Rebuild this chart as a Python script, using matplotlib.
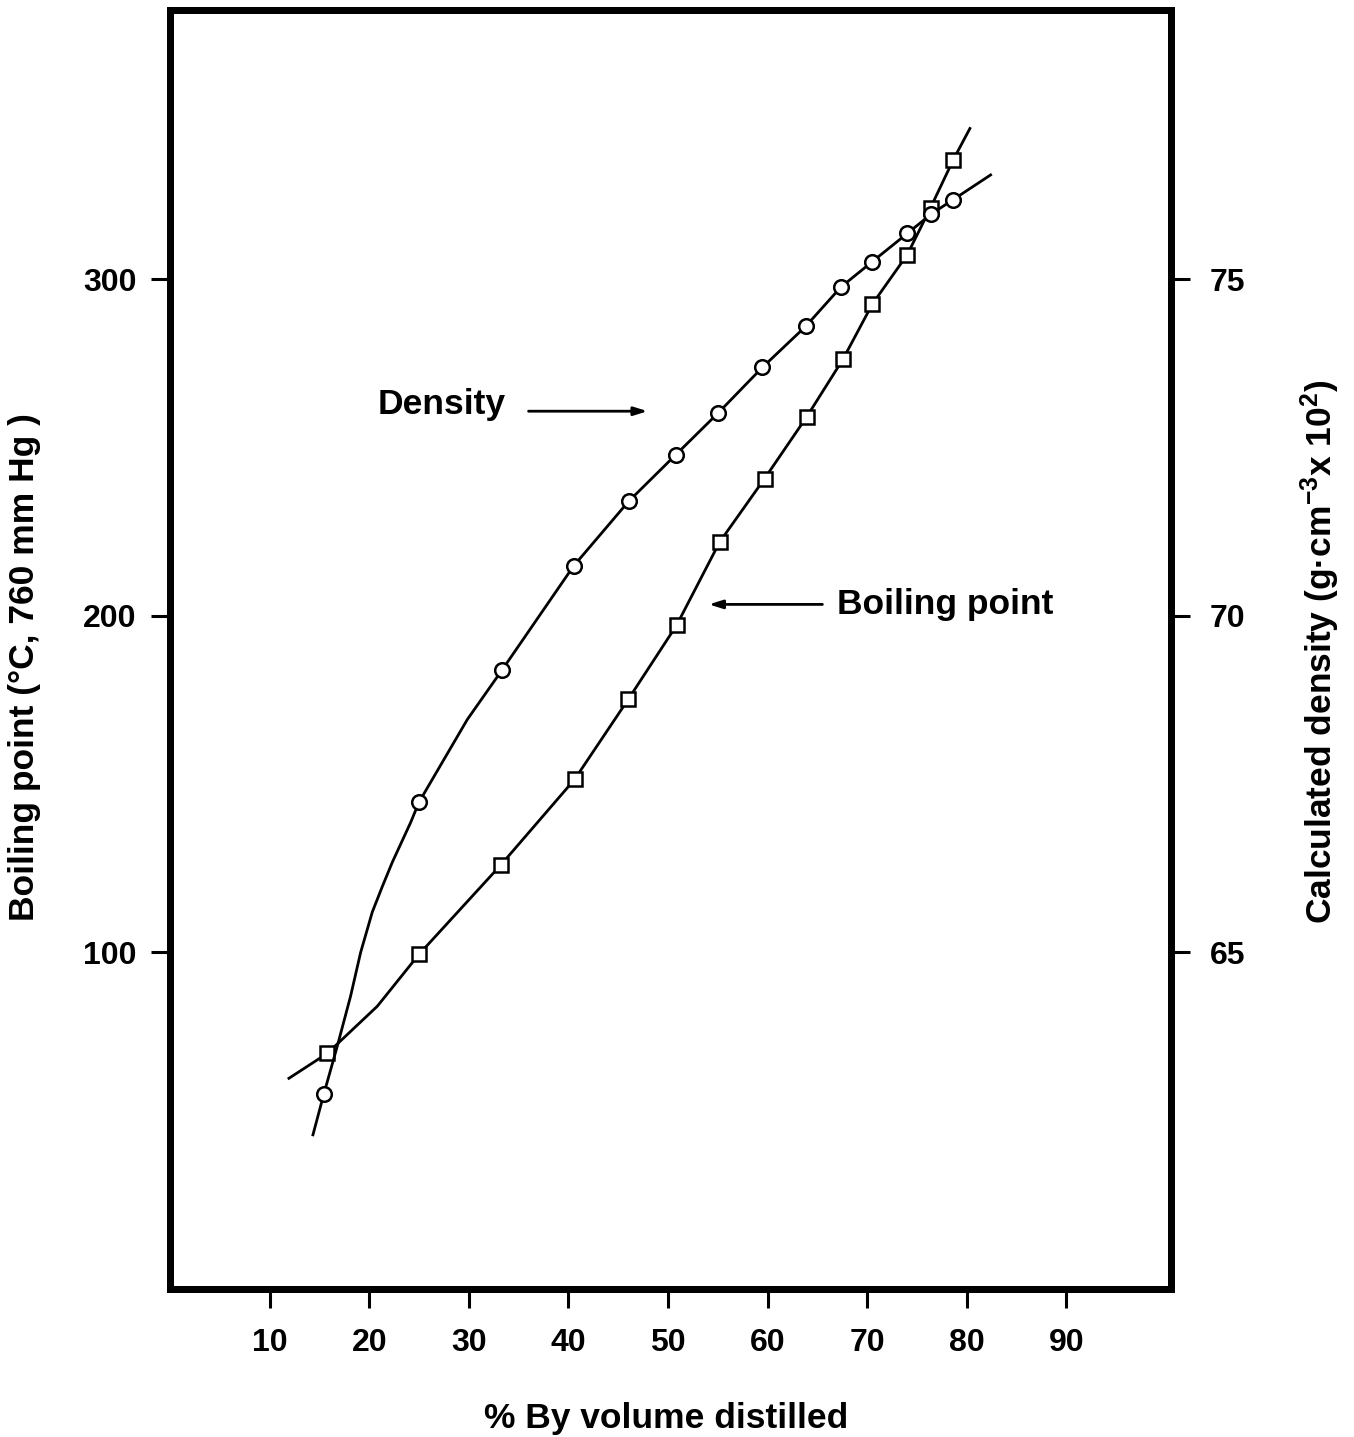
import numpy as np
import matplotlib
matplotlib.use("Agg")
import matplotlib.pyplot as plt

plt.rcParams['font.family'] = ['Liberation Sans', 'DejaVu Sans']
plt.rcParams['font.weight'] = 'bold'
plt.rcParams['mathtext.fontset'] = 'custom'
plt.rcParams['mathtext.rm'] = 'Liberation Sans:bold'
plt.rcParams['mathtext.it'] = 'Liberation Sans:bold'
plt.rcParams['mathtext.bf'] = 'Liberation Sans:bold'
plt.rcParams['mathtext.default'] = 'rm'

# ---- data ----
# Density (circles, right axis, g.cm^-3 x 10^2)
density_x = [15.45, 24.99, 33.36, 40.52, 46.04, 50.76, 55.01, 59.47, 63.82, 67.33, 70.49, 74.02, 76.44, 78.60]
density_y = [62.90, 67.23, 69.20, 70.74, 71.70, 72.39, 73.01, 73.69, 74.30, 74.88, 75.26, 75.68, 75.97, 76.18]
# extra points (ends and bend)
density_trace_x = [14.35, 16.80, 18.13, 19.14, 20.31, 21.32, 22.32, 24.16, 29.85, 82.39]
density_trace_y = [62.29, 63.61, 64.35, 65.00, 65.60, 65.98, 66.34, 66.93, 68.46, 76.55]

# Boiling point (squares, left axis, deg C)
bp_x = [15.79, 24.99, 33.19, 40.62, 46.01, 50.86, 55.18, 59.70, 63.92, 67.56, 70.51, 74.02, 76.37, 78.64]
bp_y = [70.0, 99.4, 125.9, 151.4, 175.2, 197.2, 221.9, 240.8, 259.1, 276.2, 292.6, 307.3, 321.3, 335.5]
bp_trace_x = [11.94, 20.81, 80.31]
bp_trace_y = [62.6, 84.0, 344.8]

x_ticks = [10, 20, 30, 40, 50, 60, 70, 80, 90]
left_ticks = [100, 200, 300]
right_ticks = [65, 70, 75]

def curve(mx, my, tx, ty):
    x = np.concatenate([mx, tx])
    y = np.concatenate([my, ty])
    o = np.argsort(x)
    return x[o], y[o]

fig = plt.figure(figsize=(13.54, 14.37), dpi=100)
ax = fig.add_axes([170/1354, 1 - 1289/1437, (1171-170)/1354, (1289-10)/1437])
ax2 = ax.twinx()

ax.set_xlim(0, 100.5)
ax.set_ylim(0, 380)
ax2.set_ylim(60, 79.0)

lw = 2.0
cx, cy = curve(bp_x, bp_y, bp_trace_x, bp_trace_y)
ax.plot(cx, cy, color='black', lw=lw, zorder=2)
ax.plot(bp_x, bp_y, linestyle='none', marker='s', ms=10, mfc='white', mec='black', mew=1.8, zorder=3)

dx, dy = curve(density_x, density_y, density_trace_x, density_trace_y)
ax2.plot(dx, dy, color='black', lw=lw, zorder=2)
ax2.plot(density_x, density_y, linestyle='none', marker='o', ms=10.5, mfc='white', mec='black', mew=1.8, zorder=3)

for a in (ax, ax2):
    for s in a.spines.values():
        s.set_linewidth(5)
ax.set_xticks(x_ticks)
ax.set_yticks(left_ticks)
ax2.set_yticks(right_ticks)
ax.tick_params(axis='both', direction='out', length=14, width=2.2, labelsize=23, pad=14)
ax2.tick_params(axis='y', direction='out', length=14, width=2.2, labelsize=23, pad=14)
ax.tick_params(axis='y', pad=10)

fs = 25.5
xl = ax.set_xlabel('% By volume distilled', fontsize=fs, fontweight='bold')
xl.set_va('center')
ax.xaxis.set_label_coords(0.496, -0.101)
yl = ax.set_ylabel('Boiling point (°C, 760 mm Hg )', fontsize=fs, fontweight='bold')
yl.set_va('center')
ax.yaxis.set_label_coords(-0.145, 0.486)
yr = ax2.set_ylabel('Calculated density (g·cm$^{-3}$x 10$^{2}$)', fontsize=fs, fontweight='bold')
yr.set_va('center')
ax2.yaxis.set_label_coords(1.149, 0.498)

ax.text(20.84, 262.9, 'Density', fontsize=fs, fontweight='bold', ha='left', va='center')
ax.annotate('', xy=(47.95, 260.8), xytext=(36.0, 260.8),
            arrowprops=dict(arrowstyle='-|>,head_length=0.8,head_width=0.25', color='black', lw=2, shrinkA=0, shrinkB=0))
ax.text(67.0, 203.4, 'Boiling point', fontsize=fs, fontweight='bold', ha='left', va='center')
ax.annotate('', xy=(54.1, 203.4), xytext=(65.5, 203.4),
            arrowprops=dict(arrowstyle='-|>,head_length=0.8,head_width=0.25', color='black', lw=2, shrinkA=0, shrinkB=0))

fig.savefig('out.png', dpi=100)
